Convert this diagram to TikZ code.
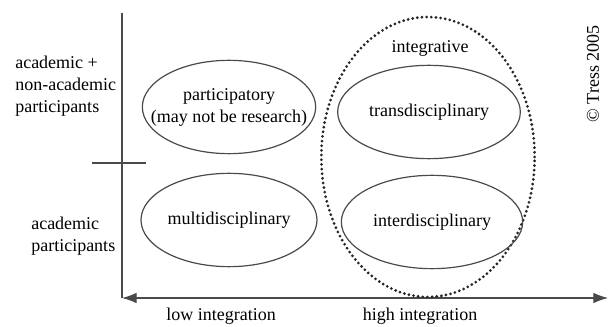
\documentclass[tikz,border=0pt]{standalone}
\usepackage{fontspec}
\setmainfont{Liberation Serif}
\usetikzlibrary{shapes.geometric,arrows.meta}

\definecolor{axisgray}{HTML}{4A4A4A}

\tikzset{
    field/.style={ellipse, draw=axisgray, line width=0.9pt, inner sep=0pt,
        minimum width=132pt, minimum height=70pt, align=center},
    label/.style={inner sep=0pt, align=left},
    dots/.style={draw=black!85, line width=2.3pt, line cap=round,
        dash pattern=on 0pt off 3.5pt}
}

\begin{document}
\begin{tikzpicture}[x=0.75pt, y=-0.75pt, font=\fontsize{13.5}{16.5}\selectfont]
    \useasboundingbox (0,0) rectangle (610,327);

    % Axes
    \coordinate (top) at (122,13);
    \coordinate (origin) at (122,298);
    \coordinate (right) at (608,298);
    \coordinate (tickL) at (92,163);
    \coordinate (tickR) at (146,163);
    \draw[axisgray, line width=0.9pt] (top) -- (origin);
    \draw[axisgray, line width=0.9pt] (tickL) -- (tickR);
    \draw[axisgray, line width=0.9pt, {Latex[length=11pt,width=8pt]}-{Latex[length=11pt,width=8pt]}] (origin) -- (right);

    % Integrative group
    \node[dots, ellipse, minimum width=160pt, minimum height=210pt] (integ) at (428,157) {};
    \node (integlbl) at (430,48) {integrative};

    % Fields
    \node[field, minimum width=130pt] (part) at (229,107) {};
    \node[align=center] (partlbl) at (part.center) {participatory\\(may not be research)};
    \node[field] (multi) at (229,220) {multidisciplinary};
    \node[field, minimum width=137pt] (trans) at (429,112) {transdisciplinary};
    \node[field, minimum width=136pt] (inter) at (432,222) {interdisciplinary};

    % Labels
    \node[label, anchor=west] (mixed) at (15,86) {academic +\\non-academic\\participants};
    \node[label, anchor=west] (acad) at (31,236) {academic\\participants};
    \node (low) at (221,316) {low integration};
    \node (high) at (420,316) {high integration};
    \node[rotate=90] (copy) at (593,74) {\textcopyright{} Tress 2005};
\end{tikzpicture}
\end{document}
